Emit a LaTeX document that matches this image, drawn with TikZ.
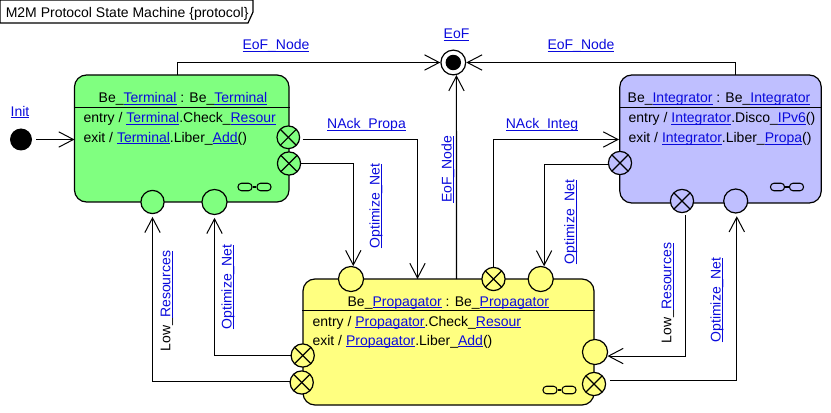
\documentclass[tikz,border=0pt]{standalone}
\usepackage{fontspec}
\setmainfont{Liberation Sans}
\usepackage{xcolor}
\definecolor{cGreen}{HTML}{80FF80}
\definecolor{cBlue}{HTML}{BFBFFF}
\definecolor{cYellow}{HTML}{FFFF80}
\definecolor{cLink}{HTML}{0A0ADC}
\usetikzlibrary{arrows.meta}
\newsavebox{\lnkbox}
\newcommand{\lnk}[1]{\sbox{\lnkbox}{\color{cLink}#1}\textcolor{cLink}{\rlap{\rule[-1.5pt]{\wd\lnkbox}{0.6pt}}}\usebox{\lnkbox}}
\tikzset{
  node-state/.style={draw,line width=0.9pt,rounded corners=9pt,minimum width=#1,inner sep=0pt},
  node-port/.style={draw,line width=0.9pt,circle,inner sep=0pt,minimum size=#1},
  node-port-exit/.style={node-port=#1,path picture={
    \draw[line width=0.9pt] (path picture bounding box.north west) -- (path picture bounding box.south east);
    \draw[line width=0.9pt] (path picture bounding box.south west) -- (path picture bounding box.north east);}},
  text-line/.style={anchor=base west,inner sep=0pt,font=\fontsize{10.5}{12}\selectfont},
  text-name/.style={anchor=base,inner sep=0pt,font=\fontsize{10.5}{12}\selectfont},
  label-link/.style={inner sep=0pt,font=\fontsize{10.5}{12}\selectfont},
  arrow/.style={-{Straight Barb[length=11pt,width=11.5pt,line width=0.75pt]},line width=0.8pt},
  sep/.style={line width=0.75pt},
  chain/.pic={
    \node[draw,line width=0.8pt,rounded corners=2.6pt,minimum width=10.5pt,minimum height=5.6pt,inner sep=0pt] (-a) at (-9.5,0) {};
    \node[draw,line width=0.8pt,rounded corners=2.6pt,minimum width=10.5pt,minimum height=5.6pt,inner sep=0pt] (-b) at (9.5,0) {};
    \draw[line width=0.8pt] (-a) -- (-b);
  },
}
\begin{document}
\begin{tikzpicture}[x=0.75pt,y=-0.75pt]
  \useasboundingbox (0,0) rectangle (831,413);
  \draw[line width=0.9pt] (0,0) -- (253,0) -- (253,12) -- (248,23) -- (0,23) -- cycle;
  \node[text-line] (title) at (5.5,18) {M2M Protocol State Machine \{protocol\}};

  % states
  \node[node-state=160.9pt,fill=cGreen,minimum height=95.25pt] (tBox) at (181.75,138.5) {};
  \node[node-state=151.1pt,fill=cBlue,minimum height=96pt] (iBox) at (720.5,139) {};
  \node[node-state=218.25pt,fill=cYellow,minimum height=94.5pt] (pBox) at (448.5,342) {};
  \draw[sep] (tBox.west |- 0,107.5) -- (tBox.east |- 0,107.5);
  \draw[sep] (iBox.west |- 0,107.5) -- (iBox.east |- 0,107.5);
  \draw[sep] (pBox.west |- 0,310.5) -- (pBox.east |- 0,310.5);

  \node[text-name] (tName) at (183,102.7) {Be\_\lnk{Terminal} : Be\_\lnk{Terminal}};
  \node[text-line] (tEntry) at (83.3,122.7) {entry / \lnk{Terminal}.Check\_\lnk{Resour}};
  \node[text-line] (tExit) at (83.3,142.3) {exit / \lnk{Terminal}.Liber\_\lnk{Add}()};
  \node[text-name] (iName) at (719,103) {Be\_\lnk{Integrator} : Be\_\lnk{Integrator}};
  \node[text-line] (iEntry) at (628.3,123) {entry / \lnk{Integrator}.Disco\_\lnk{IPv6}()};
  \node[text-line] (iExit) at (628.3,142.5) {exit / \lnk{Integrator}.Liber\_\lnk{Propa}()};
  \node[text-name] (pName) at (448.3,306) {Be\_\lnk{Propagator} : Be\_\lnk{Propagator}};
  \node[text-line] (pEntry) at (312.3,326) {entry / \lnk{Propagator}.Check\_\lnk{Resour}};
  \node[text-line] (pExit) at (312.3,345) {exit / \lnk{Propagator}.Liber\_\lnk{Add}()};

  \pic (tChain) at (254.5,187) {chain};
  \pic (iChain) at (787,187) {chain};
  \pic (pChain) at (559.5,390) {chain};

  % ports
  \node[node-port-exit=17pt,fill=cGreen] (tOutA) at (288.3,137.3) {};
  \node[node-port-exit=17.4pt,fill=cGreen] (tOutB) at (289,163.5) {};
  \node[node-port=17.4pt,fill=cGreen] (tInA) at (152.5,202) {};
  \node[node-port=18.8pt,fill=cGreen] (tInB) at (214.5,202) {};
  \node[node-port-exit=17.4pt,fill=cBlue] (iOutA) at (620,163) {};
  \node[node-port-exit=17.4pt,fill=cBlue] (iOutB) at (682,201) {};
  \node[node-port=18pt,fill=cBlue] (iIn) at (735.7,201) {};
  \node[node-port=18.8pt,fill=cYellow] (pInA) at (351,279) {};
  \node[node-port-exit=17.4pt,fill=cYellow] (pOutA) at (493.5,279) {};
  \node[node-port=18.8pt,fill=cYellow] (pInB) at (540.7,279) {};
  \node[node-port=18.8pt,fill=cYellow] (pInC) at (595,352) {};
  \node[node-port-exit=17.4pt,fill=cYellow] (pOutC) at (594,384) {};
  \node[node-port-exit=17.4pt,fill=cYellow] (pOutD) at (302.7,355.5) {};
  \node[node-port-exit=17.4pt,fill=cYellow] (pOutE) at (301.7,382.5) {};

  \node[circle,fill=black,minimum size=16.5pt,inner sep=0pt] (init) at (21,139.5) {};
  \node[draw,line width=0.9pt,circle,fill=white,minimum size=18.6pt,inner sep=0pt] (eof) at (453.3,62.5) {};
  \node[circle,fill=black,minimum size=11.6pt,inner sep=0pt] (eofDot) at (eof) {};

  \coordinate (tTopOut) at (177.5,75);
  \coordinate (iTopOut) at (735.5,75);
  \coordinate (pTopIn) at (417.5,279);
  \coordinate (pTopOut) at (456.5,279);
  \coordinate (tLeftIn) at (74.5,139.5);
  \coordinate (iLeftIn) at (619,139.5);

  % transitions
  \draw[arrow,shorten <=3pt] (init) -- (tLeftIn);
  \draw[arrow] (tTopOut) |- (eof.west);
  \draw[arrow] (iTopOut) |- (eof.east);
  \draw[arrow] (pTopOut) -- (eof.-76);
  \draw[arrow,shorten <=2pt] (tOutA.-12) -| (pTopIn);
  \draw[arrow] (tOutB.east) -| (pInA.80);
  \draw[arrow] (pOutA.north) |- (iLeftIn);
  \draw[arrow] (iOutA.185) -| (pInB.75);
  \draw[arrow,shorten <=2pt] (iOutB.-72) |- (pInC.-18);
  \draw[arrow,shorten <=3pt,shorten >=2pt] (pOutC.15) -| (iIn.-85);
  \draw[arrow,shorten >=2pt] (pOutD.west) -| (tInB.south);
  \draw[arrow,shorten >=2pt] (pOutE.175) -| (tInA.south);

  % labels
  \node[label-link] (lInit) at (20,112) {\lnk{Init}};
  \node[label-link] (lEof) at (456.5,35) {\lnk{EoF}};
  \node[label-link] (lEofA) at (276,46) {\lnk{EoF\_Node}};
  \node[label-link] (lEofB) at (581,46) {\lnk{EoF\_Node}};
  \node[label-link,rotate=90] (lEofC) at (448,169.5) {\lnk{EoF\_Node}};
  \node[label-link] (lNackP) at (366.5,125) {\lnk{NAck\_Propa}};
  \node[label-link] (lNackI) at (542,125) {\lnk{NAck\_Integ}};
  \node[label-link,rotate=90] (lOptA) at (376,206) {\lnk{Optimize\_Net}};
  \node[label-link,rotate=90] (lOptB) at (570.7,222) {\lnk{Optimize\_Net}};
  \node[label-link,rotate=90] (lOptC) at (228,287) {\lnk{Optimize\_Net}};
  \node[label-link,rotate=90] (lOptD) at (717,300) {\lnk{Optimize\_Net}};
  \node[label-link,rotate=90] (lLowA) at (167,301) {Low\_\lnk{Resources}};
  \node[label-link,rotate=90] (lLowB) at (668,293) {Low\_\lnk{Resources}};
\end{tikzpicture}
\end{document}
